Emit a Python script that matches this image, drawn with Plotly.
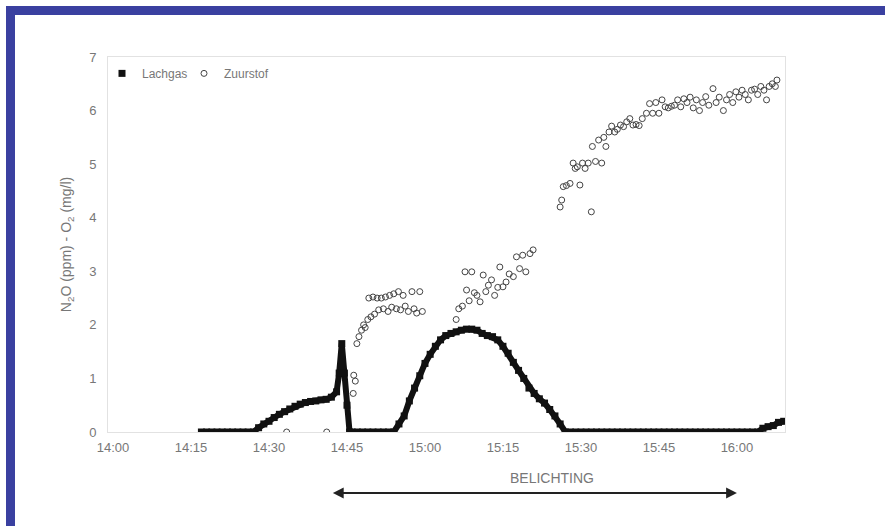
import plotly.graph_objects as go

DAY = "2000-01-01 "

# Lachgas (N2O, ppm) - time HH:MM:SS, value
n2o_time = ["14:17:00","14:18:00","14:19:00","14:20:00","14:21:00","14:22:00","14:23:00","14:24:00","14:25:00","14:26:00","14:27:00",
            "14:28:00","14:29:00","14:30:00","14:31:00","14:32:00","14:33:00","14:34:00","14:35:00","14:36:00","14:37:00",
            "14:38:00","14:39:00","14:40:00","14:41:00","14:42:00","14:43:00","14:43:30","14:44:00","14:44:30","14:45:00",
            "14:45:30","14:46:00","14:47:00","14:48:00","14:49:00","14:50:00","14:51:00","14:52:00","14:53:00","14:54:00",
            "14:55:00","14:56:00","14:57:00","14:58:00","14:59:00","15:00:00","15:01:00","15:02:00","15:03:00","15:04:00",
            "15:05:00","15:06:00","15:07:00","15:08:00","15:09:00","15:10:00","15:11:00","15:12:00","15:13:00","15:14:00",
            "15:15:00","15:16:00","15:17:00","15:18:00","15:19:00","15:20:00","15:21:00","15:22:00","15:23:00","15:24:00",
            "15:25:00","15:26:00","15:27:00","15:28:00","15:29:00","15:30:00","15:31:00","15:32:00","15:33:00","15:34:00",
            "15:35:00","15:36:00","15:37:00","15:38:00","15:39:00","15:40:00","15:41:00","15:42:00","15:43:00","15:44:00",
            "15:45:00","15:46:00","15:47:00","15:48:00","15:49:00","15:50:00","15:51:00","15:52:00","15:53:00","15:54:00",
            "15:55:00","15:56:00","15:57:00","15:58:00","15:59:00","16:00:00","16:01:00","16:02:00","16:03:00","16:04:00",
            "16:05:00","16:06:00","16:07:00","16:08:00","16:09:00"]
n2o_value = [0,0,0,0,0,0,0,0,0,0,0,
             0.08,0.15,0.2,0.27,0.33,0.38,0.43,0.48,0.52,0.55,
             0.57,0.58,0.6,0.61,0.65,0.75,1.1,1.65,1.1,0.5,
             0.0,0,0,0,0,0,0,0,0,0,
             0.15,0.3,0.58,0.82,1.05,1.28,1.45,1.6,1.72,1.8,
             1.84,1.87,1.9,1.92,1.92,1.9,1.84,1.8,1.78,1.72,
             1.6,1.47,1.3,1.15,1.0,0.82,0.72,0.62,0.54,0.42,
             0.3,0.15,0,0,0,0,0,0,0,0,
             0,0,0,0,0,0,0,0,0,0,
             0,0,0,0,0,0,0,0,0,0,
             0,0,0,0,0,0,0,0,0,0,
             0.07,0.1,0.12,0.18,0.2]

# Zuurstof (O2, mg/l) - time in minutes after 14:00, value
o2_minute = [33.4,41.1,46.2,46.3,46.6,46.9,47.3,47.8,48.2,48.5,49.0,49.2,49.6,50.0,50.3,50.8,51.1,51.6,52.0,52.4,
             52.9,53.2,53.6,54.0,54.5,54.9,55.3,55.8,56.2,56.8,57.5,57.9,58.4,59.0,59.5,
             66.0,66.5,67.2,67.7,68.0,68.5,69.0,69.5,70.0,70.6,71.2,71.7,72.2,72.8,73.4,74.0,74.4,75.0,75.6,76.2,
             77.0,77.6,78.2,78.8,79.4,80.2,80.8,
             86.0,86.3,86.6,87.2,87.9,88.5,88.9,89.3,89.8,90.3,90.8,91.4,92.0,92.2,92.8,93.4,94.0,94.4,94.8,95.4,
             95.9,96.5,97.0,97.6,98.2,98.8,99.4,100.0,100.6,101.2,101.8,102.6,103.2,103.8,104.4,105.0,105.6,106.2,
             106.8,107.4,108.0,108.6,109.2,109.8,110.4,111.0,111.6,112.2,112.8,113.4,114.0,114.6,115.4,116.0,116.6,
             117.4,118.0,118.6,119.2,119.8,120.4,121.0,121.6,122.2,122.8,123.4,124.0,124.6,125.2,125.7,126.2,126.8,
             127.4,127.7]
o2_value = [0.0,0.0,0.72,1.06,0.95,1.65,1.78,1.9,2.0,1.95,2.1,2.5,2.15,2.52,2.2,2.5,2.28,2.5,2.3,2.52,
            2.25,2.55,2.33,2.58,2.3,2.62,2.28,2.55,2.35,2.25,2.62,2.3,2.22,2.62,2.25,
            2.1,2.3,2.35,2.99,2.65,2.45,2.99,2.6,2.55,2.43,2.93,2.62,2.74,2.84,2.55,2.7,3.08,2.71,2.8,2.95,
            2.9,3.27,3.05,3.3,2.99,3.33,3.4,
            4.2,4.33,4.58,4.6,4.64,5.02,4.92,4.95,4.61,5.02,4.92,5.02,4.11,5.33,5.05,5.45,5.02,5.5,5.33,5.6,
            5.71,5.6,5.65,5.73,5.7,5.79,5.85,5.73,5.74,5.72,5.85,5.95,6.13,5.95,6.15,5.95,6.2,6.07,
            6.05,6.08,6.1,6.2,6.07,6.22,6.15,6.25,6.05,6.2,6.0,6.15,6.26,6.1,6.41,6.15,6.25,
            6.0,6.2,6.3,6.15,6.35,6.25,6.38,6.3,6.2,6.38,6.4,6.3,6.45,6.38,6.2,6.45,6.5,
            6.45,6.57]

x_ticks = ["14:00","14:15","14:30","14:45","15:00","15:15","15:30","15:45","16:00"]
y_ticks = [0,1,2,3,4,5,6,7]
x_label = "BELICHTING"


def min_to_ts(m):
    total = int(round(m * 60))
    h = 14 + total // 3600
    mm = (total % 3600) // 60
    s = total % 60
    return f"{DAY}{h:02d}:{mm:02d}:{s:02d}"

n2o_x = [DAY + t for t in n2o_time]
o2_x = [min_to_ts(m) for m in o2_minute]

fig = go.Figure()
fig.add_trace(go.Scatter(x=n2o_x, y=n2o_value, mode="lines", showlegend=False,
                         line=dict(color="#111111", width=6), hoverinfo="skip"))
fig.add_trace(go.Scatter(x=n2o_x, y=n2o_value, mode="markers", name="Lachgas",
                         marker=dict(symbol="square", size=7, color="#111111")))
fig.add_trace(go.Scatter(x=o2_x, y=o2_value, mode="markers", name="Zuurstof",
                         marker=dict(symbol="circle-open", size=6, color="#444444",
                                     line=dict(width=1, color="#444444"))))
# empty spacer entry so the last legend label is not clipped
fig.add_trace(go.Scatter(x=[None], y=[None], mode="markers", name=" ",
                         marker=dict(size=1, color="rgba(0,0,0,0)",
                                     line=dict(width=0, color="rgba(0,0,0,0)")),
                         hoverinfo="skip"))

blue = "#3a40a0"
L, R, T, B = 108, 100, 57, 94
W, H = 885, 526
pw, ph = W - L - R, H - T - B
def px(xp):
    return (xp - L) / pw
def py(yp):
    return (H - B - yp) / ph

shapes = [
    dict(type="rect", xref="paper", yref="paper", x0=px(6), x1=px(886), y0=py(15), y1=py(6),
         fillcolor=blue, line=dict(width=0), layer="above"),
    dict(type="rect", xref="paper", yref="paper", x0=px(6), x1=px(15), y0=py(527), y1=py(6),
         fillcolor=blue, line=dict(width=0), layer="above"),
]

annotations = [
    dict(xref="x", yref="paper", x=DAY + "16:00", y=py(493), axref="x", ayref="pixel",
         ax=DAY + "14:42", ay=0, showarrow=True, arrowhead=2, arrowside="end+start",
         arrowsize=1.2, arrowwidth=1.8, arrowcolor="#222222", text=""),
    dict(xref="paper", yref="paper", x=px(552), y=py(478), xanchor="center", yanchor="middle",
         showarrow=False, text=x_label, font=dict(size=14, color="#777777")),
]

fig.update_layout(
    width=W, height=H,
    margin=dict(l=L, r=R, t=T, b=B),
    paper_bgcolor="white", plot_bgcolor="white",
    font=dict(family="Liberation Sans, Arial, sans-serif", color="#777777", size=12),
    showlegend=True,
    legend=dict(orientation="h", x=px(102), y=0.995, xanchor="left", yanchor="top",
                bgcolor="rgba(0,0,0,0)", font=dict(size=12, color="#777777"),
                itemwidth=30, entrywidth=37, tracegroupgap=0, itemclick=False),
    shapes=shapes,
    annotations=annotations,
)

fig.update_xaxes(
    type="date",
    range=[DAY + "13:59:02", DAY + "16:09:15"],
    tickvals=[DAY + t for t in x_ticks], ticktext=x_ticks,
    showgrid=False, zeroline=False,
    showline=True, mirror=True, linecolor="#e2e2e2", linewidth=1,
    ticks="outside", ticklen=3, tickcolor="rgba(0,0,0,0)",
    tickfont=dict(size=13, color="#777777"),
)
fig.update_yaxes(
    range=[0, 7], tickvals=y_ticks,
    showgrid=False, zeroline=False,
    showline=True, mirror=True, linecolor="#e2e2e2", linewidth=1,
    ticks="outside", ticklen=8, tickcolor="rgba(0,0,0,0)",
    tickfont=dict(size=13, color="#777777"),
    title=dict(text="N<sub>2</sub>O (ppm) - O<sub>2</sub> (mg/l)", font=dict(size=14, color="#777777"), standoff=14),
)

fig.write_html("out.html")
